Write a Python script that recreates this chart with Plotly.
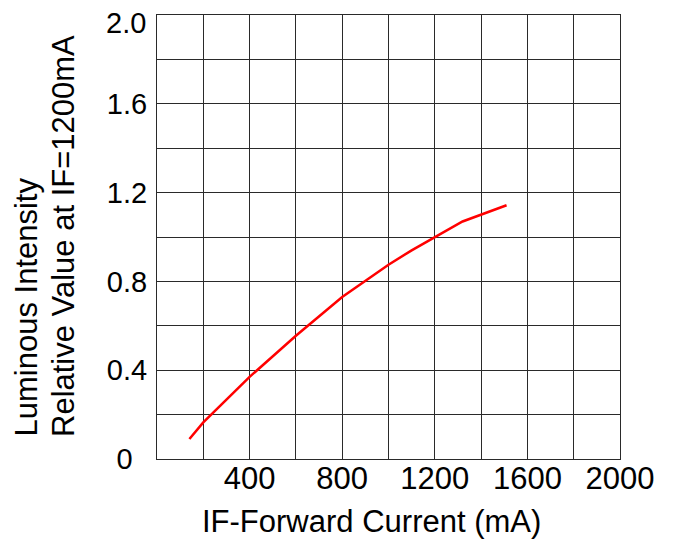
import plotly.graph_objects as go

current_ma = [140, 200, 400, 600, 800, 1000, 1100, 1200, 1320, 1510]
relative_intensity = [0.09, 0.165, 0.37, 0.555, 0.73, 0.875, 0.94, 1.0, 1.07, 1.143]

x_grid = [0, 200, 400, 600, 800, 1000, 1200, 1400, 1600, 1800, 2000]
x_labels = ["", "", "400", "", "800", "", "1200", "", "1600", "", "2000"]
y_grid = [0, 0.2, 0.4, 0.6, 0.8, 1.0, 1.2, 1.4, 1.6, 1.8, 2.0]
y_labels = ["0\u2002", "", "0.4", "", "0.8", "", "1.2", "", "1.6", "", ""]
y_top_label = "2.0"
y_top_value = 2.0

x_title = "IF-Forward Current (mA)"
y_title_line1 = "Luminous Intensity"
y_title_line2 = "Relative Value at IF=1200mA"

font = "Liberation Sans, Arial, sans-serif"
grid_col = "#2a2a2a"

L, T, R, B = 149, 7, 65, 89
W, H = 677, 540
PW, PH = W - L - R, H - T - B


def px(xp):
    return (xp - 8 - L) / PW


def py(yp):
    return (H - B - (yp - 8)) / PH


fig = go.Figure()
fig.add_trace(go.Scatter(x=current_ma, y=relative_intensity, mode="lines",
                         line=dict(color="#ff0000", width=2.5), showlegend=False))

fig.update_layout(
    width=W, height=H, autosize=False,
    margin=dict(l=L, r=R, t=T, b=B, pad=0),
    paper_bgcolor="white", plot_bgcolor="white",
    font=dict(family=font, size=29, color="black"),
    xaxis=dict(range=[0, 2000], tickmode="array", tickvals=x_grid, ticktext=x_labels,
               showgrid=True, gridcolor=grid_col, gridwidth=1, zeroline=False,
               showline=True, linecolor=grid_col, linewidth=1, mirror=True,
               ticks="", tickfont=dict(size=31), automargin=False,
               ticklabelstandoff=-8),
    yaxis=dict(range=[0, 2.0], tickmode="array", tickvals=y_grid, ticktext=y_labels,
               showgrid=True, gridcolor=grid_col, gridwidth=1, zeroline=False,
               showline=True, linecolor=grid_col, linewidth=1, mirror=True,
               ticks="", tickfont=dict(size=29), automargin=False,
               ticklabelstandoff=3),
    annotations=[
        dict(text=y_top_label, xref="paper", yref="y", x=0, y=y_top_value,
             xanchor="right", yanchor="middle", xshift=-9, yshift=-8,
             showarrow=False, font=dict(size=29, family=font)),
        dict(text=x_title, xref="paper", yref="paper", x=px(371), y=py(521),
             xanchor="center", yanchor="middle", showarrow=False,
             font=dict(size=31, family=font)),
        dict(text=y_title_line1, xref="paper", yref="paper", x=px(26), y=py(439),
             xanchor="center", yanchor="bottom", textangle=-90,
             showarrow=False, font=dict(size=31, family=font)),
        dict(text=y_title_line2, xref="paper", yref="paper", x=px(63), y=py(439),
             xanchor="center", yanchor="bottom", textangle=-90,
             showarrow=False, font=dict(size=31, family=font)),
    ],
)

fig.write_html("out.html")
